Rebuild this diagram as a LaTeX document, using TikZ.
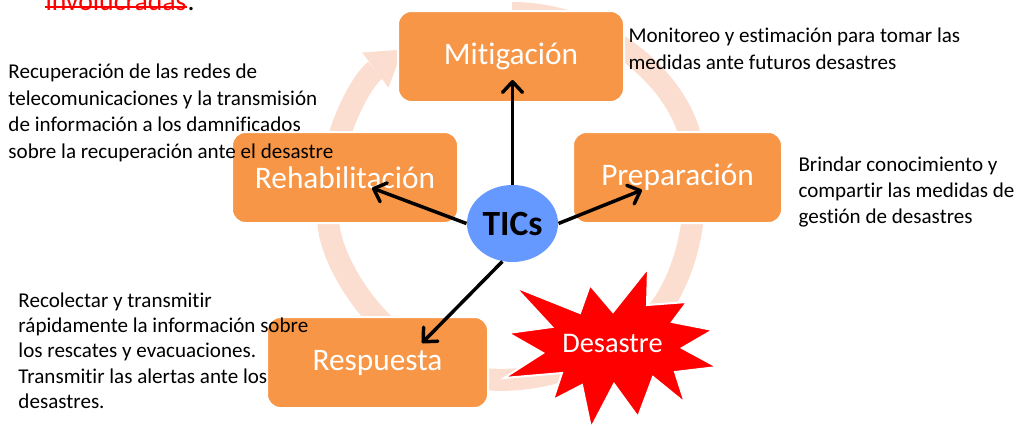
\documentclass[tikz,border=0pt]{standalone}
\usepackage{fontspec}
\setmainfont{Carlito}[RawFeature={-liga;-clig;-calt;-dlig;-hlig}]
\usetikzlibrary{arrows.meta,shapes.geometric}

\definecolor{stageOrange}{RGB}{247,150,70}
\definecolor{ringPeach}{RGB}{251,222,208}
\definecolor{ticsBlue}{RGB}{102,153,255}

\tikzset{every picture/.style={line width=0.75pt}}
\tikzset{
  stage/.style={draw=white, line width=1.5pt, fill=stageOrange, rounded corners=10pt, text=white,
    font=\fontsize{23.5}{28}\selectfont, minimum height=68.25pt, inner sep=0pt},
  ring/.style={draw=ringPeach, line width=16.5pt, -{Triangle[length=25.5pt,width=33pt,line width=0pt]}},
  desc/.style={anchor=west, inner sep=0pt, align=left, font=\fontsize{15.8}{20}\selectfont},
  ticarrow/.style={draw=black, line width=2.6pt, -{Straight Barb[length=8pt,width=15pt,round]}},
}

\begin{document}
\begin{tikzpicture}[x=0.75pt,y=0.75pt,yscale=-1,xscale=1]
\useasboundingbox (0,0) rectangle (1024,425);
\coordinate (ctr) at (512,195);

%Cycle arcs
\draw[ring] (ctr) ++(-90:182) arc[start angle=-90, end angle=-2, radius=182];
\draw[ring] (ctr) ++(-6:182) arc[start angle=-6, end angle=54, radius=182];
\draw[ring] (ctr) ++(56:182) arc[start angle=56, end angle=125, radius=182];
\draw[ring] (ctr) ++(128:182) arc[start angle=128, end angle=183, radius=182];
\draw[ring] (ctr) ++(186:182) arc[start angle=186, end angle=233, radius=182];

%Stages
\node[stage, minimum width=169.5pt] (mit) at (511,56.5) {Mitigación};
\node[stage, minimum width=169.5pt] (rehab) at (345,177.5) {Rehabilitación};
\node[stage, minimum width=156.75pt] (prep) at (677.5,177.5) {Preparación};
\node[stage, minimum width=165.75pt] (resp) at (377.5,362.5) {Respuesta};

%Shape: Explosion
\draw[fill=red, draw=white, line width=1.5pt] (648,268) -- (647,305) -- (687,302) -- (672,322) -- (713,330) -- (682,348) -- (717,367) -- (675,372) -- (685,403) -- (653,377) -- (638,417) -- (614,384) -- (591,428) -- (582,385) -- (553,400) -- (562,373) -- (504,378) -- (543,353) -- (508,333) -- (552,327) -- (515,287) -- (580,313) -- (590,285) -- (613,312) -- cycle;
\node[text=white, inner sep=0pt, font=\fontsize{21.3}{25}\selectfont] (dis) at (612.5,343) {Desastre};

% Text Node
\node[anchor=base west, inner sep=0pt, text=red, font=\fontsize{20.8}{25}\selectfont] (invol) at (45,10) {involucradas};
\node[anchor=base west, inner sep=0pt, font=\fontsize{20.8}{25}\selectfont] (invdot) at (invol.base east) {.};
\draw[red, line width=1.5pt] ([yshift=-2pt]invol.base west) -- ([yshift=-2pt]invol.base east);
% Text Node
\node[desc] (recup) at (8,112.8) {Recuperación de las redes de\\telecomunicaciones y la transmisión\\de información a los damnificados\\sobre la recuperación ante el desastre};
% Text Node
\node[desc, font=\fontsize{15.8}{20.5}\selectfont] (monit) at (628,48.9) {Monitoreo y estimación para tomar las\\medidas ante futuros desastres};
% Text Node
\node[desc, font=\fontsize{15.8}{19.5}\selectfont] (brind) at (798,191.8) {Brindar conocimiento y\\compartir las medidas de\\gestión de desastres};
% Text Node
\node[desc, font=\fontsize{15.8}{18.9}\selectfont] (recol) at (18,350.7) {Recolectar y transmitir\\rápidamente la información sobre\\los rescates y evacuaciones.\\Transmitir las alertas ante los\\desastres.};

%TICs hub
\node[ellipse, fill=ticsBlue, minimum width=68.25pt, minimum height=57.75pt, inner sep=0pt,
  font=\fontsize{26.6}{30}\selectfont\bfseries] (tics) at (512.5,223.5) {TICs};
\coordinate (mitTip) at (512.5,80);
\coordinate (rehabTip) at (372,188);
\coordinate (prepTip) at (642,190);
\coordinate (respTip) at (422,343);
\draw[ticarrow] (tics.north) -- (mitTip);
\draw[ticarrow] (tics.west) -- (rehabTip);
\draw[ticarrow] (tics.east) -- (prepTip);
\draw[ticarrow] (tics.255) -- (respTip);
\end{tikzpicture}
\end{document}
